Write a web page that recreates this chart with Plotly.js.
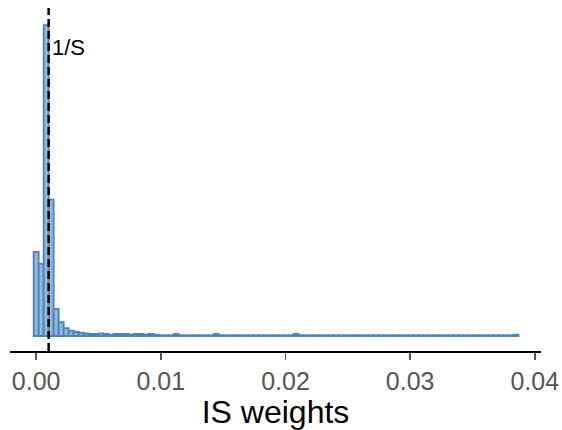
<!DOCTYPE html>
<html>
<head>
<meta charset="utf-8">
<script src="https://cdn.plot.ly/plotly-3.0.1.min.js"></script>
<style>
  html, body { margin: 0; padding: 0; background: #fff; }
  #chart { width: 562px; height: 430px; }
</style>
</head>
<body>
<div id="chart"></div>
<script>
// Histogram of importance-sampling weights (S = 1000 draws)
const S = 1000;
const binStart = 0.0;        // centre of the first bin
const binWidth = 0.000401;   // histogram bin width
const binCounts = [
  127, 109, 470, 206, 41, 21, 12, 8, 6, 5,
  4, 3, 3, 4, 3, 2, 3, 3, 3, 2,
  3, 3, 2, 3, 2, 1, 1, 1, 3, 1,
  1, 1, 1, 1, 1, 1, 3, 1, 1, 1,
  1, 1, 1, 1, 1, 1, 1, 1, 1, 1,
  1, 1, 3, 1, 1, 1, 1, 1, 1, 1,
  1, 1, 1, 1, 1, 1, 1, 1, 1, 1,
  1, 1, 1, 1, 1, 1, 1, 1, 1, 1,
  1, 1, 1, 1, 1, 1, 1, 1, 1, 1,
  1, 1, 1, 1, 1, 1, 2
];
const tickValues = [0.00, 0.01, 0.02, 0.03, 0.04];
const tickLabels = ['0.00', '0.01', '0.02', '0.03', '0.04'];
const axisTitle = 'IS weights';
const refLabel = '1/S';

const binCentres = binCounts.map((_, i) => binStart + i * binWidth);

const trace = {
  type: 'bar',
  x: binCentres,
  y: binCounts,
  width: binCounts.map(() => binWidth),
  marker: {
    color: '#93b8dc',
    line: { color: '#4a82ba', width: 1.8 }
  },
  hoverinfo: 'x+y'
};

const layout = {
  width: 562,
  height: 430,
  margin: { l: 10, r: 21, t: 8, b: 79 },
  paper_bgcolor: '#fff',
  plot_bgcolor: '#fff',
  showlegend: false,
  bargap: 0,
  font: { family: 'Liberation Sans, Arial, sans-serif' },
  xaxis: {
    range: [-0.0021, 0.0405],
    tickvals: tickValues,
    ticktext: tickLabels,
    showgrid: false,
    zeroline: false,
    showline: true,
    linecolor: '#000',
    linewidth: 2,
    ticks: 'outside',
    ticklen: 7,
    tickwidth: 1.5,
    tickcolor: '#555',
    tickfont: { size: 25, color: '#555' },
    title: { text: axisTitle, font: { size: 32, color: '#000' }, standoff: 7 }
  },
  yaxis: {
    visible: false,
    range: [-22.7, 495.8],
    fixedrange: true
  },
  shapes: [{
    type: 'line',
    xref: 'x', yref: 'paper',
    x0: 1 / S, x1: 1 / S, y0: 0, y1: 1,
    line: { color: '#000', width: 2.5, dash: '8px,4px' },
    layer: 'above'
  }],
  annotations: [{
    x: 1 / S, xref: 'x',
    y: 0.884, yref: 'paper',
    text: refLabel,
    showarrow: false,
    xanchor: 'left', yanchor: 'middle',
    xshift: 1,
    font: { size: 22, color: '#000' }
  }]
};

Plotly.newPlot('chart', [trace], layout, { displayModeBar: false, staticPlot: true });
</script>
</body>
</html>
